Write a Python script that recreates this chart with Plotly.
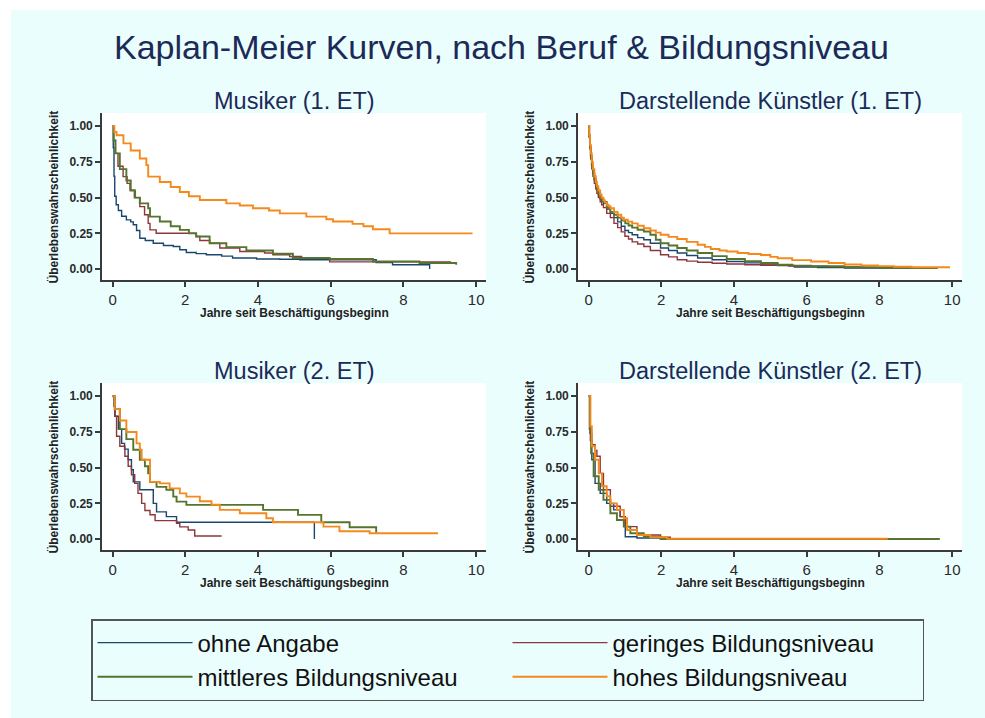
import plotly.graph_objects as go

# ---------------- data ----------------
series_names = ["ohne Angabe", "geringes Bildungsniveau", "mittleres Bildungsniveau", "hohes Bildungsniveau"]
series_colors = ["#1a476f", "#90353b", "#55752f", "#f5891c"]
series_widths = [1.4, 1.4, 1.9, 1.9]

panel_titles = ["Musiker (1. ET)", "Darstellende Künstler (1. ET)", "Musiker (2. ET)", "Darstellende Künstler (2. ET)"]
x_tick_vals = [0, 2, 4, 6, 8, 10]
y_tick_vals = [0, 0.25, 0.5, 0.75, 1.0]
x_title = "Jahre seit Beschäftigungsbeginn"
y_title = "Überlebenswahrscheinlichkeit"
main_title = "Kaplan-Meier Kurven, nach Beruf & Bildungsniveau"

# Musiker (1. ET)
m1_ohne_t = [0, 0.02, 0.04, 0.06, 0.1, 0.16, 0.25, 0.38, 0.5, 0.57, 0.66, 0.75, 0.9, 1.12, 1.4, 1.67, 1.85, 2.03, 2.3, 2.58, 3.0, 3.3, 3.96, 4.6, 5.15, 7.25, 7.7, 8.72]
m1_ohne_s = [1.0, 0.85, 0.65, 0.51, 0.45, 0.41, 0.37, 0.344, 0.33, 0.31, 0.27, 0.216, 0.2, 0.18, 0.165, 0.158, 0.135, 0.116, 0.108, 0.1, 0.09, 0.077, 0.07, 0.068, 0.065, 0.045, 0.03, 0.0]
m1_ger_t = [0, 0.03, 0.08, 0.15, 0.29, 0.4, 0.48, 0.6, 0.75, 0.88, 0.98, 1.03, 1.2, 2.3, 2.4, 2.67, 2.95, 3.5, 4.18, 4.41, 4.87, 5.2, 5.97, 9.31]
m1_ger_s = [1.0, 0.9, 0.81, 0.72, 0.647, 0.6, 0.553, 0.5, 0.437, 0.38, 0.32, 0.274, 0.251, 0.228, 0.2, 0.181, 0.147, 0.123, 0.112, 0.1, 0.088, 0.075, 0.05, 0.05]
m1_mit_t = [0, 0.03, 0.08, 0.2, 0.38, 0.5, 0.62, 0.75, 0.98, 1.03, 1.3, 1.6, 1.85, 2.1, 2.3, 2.67, 3.13, 3.68, 4.41, 4.96, 5.97, 7.16, 8.44, 9.45]
m1_mit_s = [1.0, 0.9, 0.81, 0.7, 0.62, 0.55, 0.5, 0.46, 0.426, 0.367, 0.333, 0.3, 0.274, 0.25, 0.228, 0.18, 0.153, 0.13, 0.107, 0.077, 0.07, 0.053, 0.042, 0.03]
m1_hoh_t = [0, 0.05, 0.11, 0.3, 0.5, 0.75, 0.93, 0.98, 1.3, 1.6, 1.85, 2.1, 2.4, 3.13, 3.5, 3.86, 4.3, 4.6, 5.33, 5.88, 6.06, 6.6, 6.9, 7.16, 7.62, 9.9]
m1_hoh_s = [1.0, 0.96, 0.937, 0.88, 0.83, 0.774, 0.728, 0.647, 0.61, 0.575, 0.54, 0.51, 0.484, 0.46, 0.445, 0.426, 0.41, 0.39, 0.367, 0.349, 0.333, 0.316, 0.3, 0.279, 0.25, 0.25]

# Darstellende Künstler (1. ET)
d1_ohne_t = [0, 0.02, 0.04, 0.06, 0.09, 0.12, 0.16, 0.2, 0.23, 0.27, 0.32, 0.36, 0.41, 0.5, 0.6, 0.7, 0.8, 0.9, 1.0, 1.1,
             1.2, 1.35, 1.52, 1.7, 1.98, 2.2, 2.44, 2.7, 3.0, 3.4, 3.8, 4.3, 4.74, 5.2, 5.66, 6.3, 7.04, 9.6]
d1_ohne_s = [1.0, 0.93, 0.85, 0.78, 0.72, 0.67, 0.62, 0.58, 0.55, 0.52, 0.49, 0.475, 0.46, 0.42, 0.39, 0.36, 0.33, 0.3, 0.27, 0.255,
             0.24, 0.22, 0.205, 0.18, 0.147, 0.13, 0.112, 0.095, 0.077, 0.065, 0.053, 0.043, 0.035, 0.025, 0.014, 0.01, 0.007, 0.007]
d1_ger_t = [0, 0.02, 0.04, 0.06, 0.09, 0.12, 0.16, 0.2, 0.23, 0.27, 0.32, 0.36, 0.41, 0.5, 0.6, 0.7, 0.8, 0.9, 1.0, 1.1,
            1.2, 1.35, 1.52, 1.7, 1.98, 2.2, 2.44, 2.7, 3.0, 3.4, 3.8, 4.3, 4.74, 5.5, 6.6, 7.6]
d1_ger_s = [1.0, 0.92, 0.84, 0.77, 0.7, 0.65, 0.6, 0.56, 0.53, 0.5, 0.47, 0.45, 0.43, 0.39, 0.36, 0.32, 0.29, 0.26, 0.23, 0.21,
            0.19, 0.175, 0.158, 0.13, 0.1, 0.085, 0.065, 0.055, 0.047, 0.04, 0.035, 0.03, 0.026, 0.02, 0.015, 0.015]
d1_mit_t = [0, 0.02, 0.04, 0.06, 0.09, 0.12, 0.16, 0.2, 0.23, 0.27, 0.32, 0.36, 0.41, 0.5, 0.6, 0.7, 0.8, 0.9, 1.01, 1.1,
            1.2, 1.35, 1.52, 1.7, 1.85, 1.98, 2.2, 2.44, 2.7, 3.0, 3.4, 3.8, 4.3, 4.74, 5.2, 5.6, 6.12, 7.04, 8.0, 8.88, 9.6]
d1_mit_s = [1.0, 0.93, 0.86, 0.79, 0.72, 0.67, 0.63, 0.59, 0.56, 0.53, 0.5, 0.485, 0.47, 0.43, 0.40, 0.38, 0.36, 0.34, 0.32, 0.305,
            0.29, 0.275, 0.263, 0.24, 0.205, 0.18, 0.165, 0.147, 0.13, 0.112, 0.09, 0.07, 0.055, 0.042, 0.03, 0.024, 0.019, 0.012, 0.009, 0.007, 0.007]
d1_hoh_t = [0, 0.02, 0.04, 0.06, 0.09, 0.12, 0.16, 0.2, 0.23, 0.27, 0.32, 0.36, 0.41, 0.45, 0.5, 0.55, 0.6, 0.7, 0.8, 0.9,
            0.97, 1.08, 1.2, 1.35, 1.52, 1.7, 1.85, 1.98, 2.2, 2.44, 2.7, 3.0, 3.2, 3.36, 3.6, 3.8, 4.1, 4.4, 4.74, 5.0,
            5.2, 5.6, 6.12, 6.6, 7.04, 7.5, 7.96, 8.4, 8.88, 9.94]
d1_hoh_s = [1.0, 0.94, 0.87, 0.81, 0.75, 0.7, 0.65, 0.61, 0.58, 0.55, 0.52, 0.5, 0.48, 0.465, 0.45, 0.44, 0.426, 0.4, 0.38, 0.36,
            0.345, 0.332, 0.32, 0.303, 0.286, 0.27, 0.255, 0.24, 0.225, 0.21, 0.19, 0.17, 0.155, 0.14, 0.13, 0.123, 0.112, 0.105, 0.098, 0.085,
            0.075, 0.062, 0.053, 0.042, 0.032, 0.025, 0.02, 0.016, 0.012, 0.012]

# Musiker (2. ET)
m2_ohne_t = [0, 0.04, 0.07, 0.16, 0.25, 0.33, 0.43, 0.52, 0.57, 0.75, 1.12, 1.21, 1.48, 1.76, 5.55]
m2_ohne_s = [1.0, 0.93, 0.86, 0.77, 0.67, 0.63, 0.555, 0.485, 0.4, 0.345, 0.25, 0.19, 0.157, 0.117, 0.0]
m2_ger_t = [0, 0.06, 0.11, 0.2, 0.34, 0.43, 0.52, 0.61, 0.7, 0.8, 0.89, 1.03, 1.17, 1.76, 1.85, 2.08, 2.26, 3.0]
m2_ger_s = [1.0, 0.86, 0.72, 0.65, 0.58, 0.51, 0.45, 0.39, 0.32, 0.25, 0.2, 0.17, 0.129, 0.11, 0.085, 0.063, 0.021, 0.021]
m2_mit_t = [0, 0.06, 0.2, 0.38, 0.57, 0.75, 0.89, 0.98, 1.03, 1.21, 1.48, 1.67, 1.76, 2.03, 4.14, 5.1, 5.74, 6.52, 7.25]
m2_mit_s = [1.0, 0.91, 0.77, 0.70, 0.625, 0.555, 0.51, 0.46, 0.40, 0.365, 0.344, 0.297, 0.262, 0.239, 0.204, 0.169, 0.117, 0.082, 0.044]
m2_hoh_t = [0, 0.06, 0.2, 0.38, 0.66, 0.75, 0.8, 1.03, 1.3, 1.57, 1.85, 2.03, 2.4, 2.72, 2.95, 3.5, 4.23, 4.41, 5.8, 6.24, 7.07, 8.95]
m2_hoh_s = [1.0, 0.91, 0.83, 0.75, 0.67, 0.625, 0.555, 0.40, 0.39, 0.355, 0.32, 0.297, 0.265, 0.24, 0.204, 0.18, 0.145, 0.117, 0.087, 0.054, 0.04, 0.04]

# Darstellende Künstler (2. ET)
d2_ohne_t = [0, 0.04, 0.09, 0.18, 0.32, 0.5, 0.69, 0.87, 1.01, 1.33, 2.07]
d2_ohne_s = [1.0, 0.74, 0.555, 0.39, 0.32, 0.25, 0.204, 0.157, 0.016, 0.007, 0.0]
d2_ger_t = [0, 0.05, 0.09, 0.18, 0.23, 0.32, 0.41, 0.6, 0.87, 1.01, 1.33, 1.98, 2.25, 3.7]
d2_ger_s = [1.0, 0.69, 0.66, 0.62, 0.58, 0.46, 0.345, 0.23, 0.157, 0.087, 0.028, 0.012, 0.0, 0.0]
d2_mit_t = [0, 0.03, 0.07, 0.14, 0.28, 0.41, 0.6, 0.78, 0.97, 1.15, 1.52, 1.98, 9.66]
d2_mit_s = [1.0, 0.77, 0.6, 0.44, 0.344, 0.274, 0.18, 0.133, 0.087, 0.04, 0.016, 0.0, 0.0]
d2_hoh_t = [0, 0.05, 0.09, 0.18, 0.28, 0.37, 0.5, 0.6, 0.78, 0.97, 1.06, 1.33, 1.7, 2.16, 8.23]
d2_hoh_s = [1.0, 0.79, 0.65, 0.555, 0.46, 0.37, 0.30, 0.25, 0.204, 0.145, 0.063, 0.028, 0.012, 0.002, 0.002]

panels = [
    [(m1_ohne_t, m1_ohne_s), (m1_ger_t, m1_ger_s), (m1_mit_t, m1_mit_s), (m1_hoh_t, m1_hoh_s)],
    [(d1_ohne_t, d1_ohne_s), (d1_ger_t, d1_ger_s), (d1_mit_t, d1_mit_s), (d1_hoh_t, d1_hoh_s)],
    [(m2_ohne_t, m2_ohne_s), (m2_ger_t, m2_ger_s), (m2_mit_t, m2_mit_s), (m2_hoh_t, m2_hoh_s)],
    [(d2_ohne_t, d2_ohne_s), (d2_ger_t, d2_ger_s), (d2_mit_t, d2_mit_s), (d2_hoh_t, d2_hoh_s)],
]

# ---------------- layout geometry (pixels) ----------------
W, H = 985, 718
BG = "#ebfefe"
FONT = "Liberation Sans, Arial, Helvetica, sans-serif"
TITLE_COLOR = "#1c2a58"
AX_COLOR = "#3a3a3a"

# plot-area pixel boxes: (left, right, top, bottom)
boxes = [(102, 486, 113, 280), (578, 962, 113, 280), (102, 486, 383, 550), (578, 962, 383, 550)]

def px(x):
    return x / W

def py(y):
    return 1 - y / H

fig = go.Figure()
layout = dict(
    width=W, height=H,
    margin=dict(l=0, r=0, t=0, b=0),
    paper_bgcolor=BG, plot_bgcolor="white",
    font=dict(family=FONT, color="#222"),
    showlegend=True,
)
annotations = []

for i, (box, series) in enumerate(zip(boxes, panels)):
    l, r, t, b = box
    sfx = "" if i == 0 else str(i + 1)
    xa, ya = "x" + sfx, "y" + sfx
    layout["xaxis" + sfx] = dict(
        domain=[px(l), px(r)], anchor=ya, range=[-0.29, 10.27],
        tickvals=x_tick_vals, ticks="outside", ticklen=5, tickwidth=1.5, tickcolor=AX_COLOR,
        showline=True, linecolor=AX_COLOR, linewidth=1.6, showgrid=False, zeroline=False,
        tickfont=dict(size=15, color="#2a2a2a"), fixedrange=True,
    )
    layout["yaxis" + sfx] = dict(
        domain=[py(b), py(t)], anchor=xa, range=[-0.077, 1.093],
        tickvals=y_tick_vals, tickformat=".2f", ticks="outside", ticklen=5, tickwidth=1.5, tickcolor=AX_COLOR,
        showline=True, linecolor=AX_COLOR, linewidth=1.6, showgrid=False, zeroline=False,
        tickfont=dict(size=12, color="#2a2a2a", weight="bold"), fixedrange=True,
    )
    for k, (tt, ss) in enumerate(series):
        fig.add_trace(go.Scatter(
            x=tt, y=ss, mode="lines", line=dict(color=series_colors[k], width=series_widths[k], shape="hv"),
            name=series_names[k], legendgroup=series_names[k], showlegend=(i == 0),
            xaxis=xa, yaxis=ya, hoverinfo="skip",
        ))
    cx = (l + r) / 2
    annotations.append(dict(text=panel_titles[i], x=px(cx), y=py(t - 12), xref="paper", yref="paper",
                            xanchor="center", yanchor="middle", showarrow=False,
                            font=dict(size=23.5, color=TITLE_COLOR)))
    annotations.append(dict(text=x_title, x=px(cx), y=py(b + 33), xref="paper", yref="paper",
                            xanchor="center", yanchor="middle", showarrow=False,
                            font=dict(size=12, color="#222", weight="bold")))
    annotations.append(dict(text=y_title, x=px(l - 49), y=py((t + b) / 2 + 1), xref="paper", yref="paper",
                            xanchor="center", yanchor="middle", showarrow=False, textangle=-90,
                            font=dict(size=12, color="#222", weight="bold")))

annotations.append(dict(text=main_title, x=px(501), y=py(47), xref="paper", yref="paper",
                        xanchor="center", yanchor="middle", showarrow=False,
                        font=dict(size=34, color=TITLE_COLOR)))

layout["annotations"] = annotations
layout["shapes"] = [
    dict(type="rect", xref="paper", yref="paper", x0=0, x1=px(11), y0=0, y1=1,
         fillcolor="white", line=dict(width=0), layer="below"),
    dict(type="rect", xref="paper", yref="paper", x0=0, x1=1, y0=py(10), y1=1,
         fillcolor="white", line=dict(width=0), layer="below"),
]
layout["legend"] = dict(
    orientation="h", x=px(91), y=py(619), xanchor="left", yanchor="top",
    bgcolor="rgba(0,0,0,0)", bordercolor="#555", borderwidth=1.5,
    font=dict(size=24, color="#111"), itemwidth=95,
    entrywidth=305, entrywidthmode="pixels", traceorder="normal",
)
fig.update_layout(**layout)
fig.write_html(
    "out.html",
    config={"displayModeBar": False},
    post_script="document.body.style.margin='0';document.body.style.padding='0';"
                "document.body.style.background='" + BG + "';"
                "document.documentElement.style.background='" + BG + "';"
                "document.documentElement.style.overflow='hidden';",
)
